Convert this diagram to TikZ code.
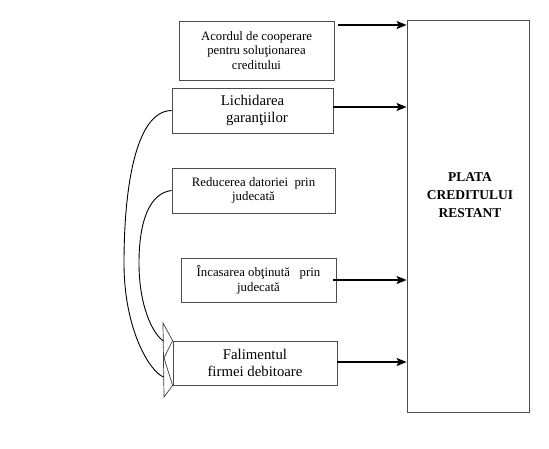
\documentclass[tikz,border=0pt]{standalone}
\usepackage{fontspec}
\setmainfont{Liberation Serif}
\usetikzlibrary{arrows.meta}
\begin{document}
\begin{tikzpicture}[x=1pt,y=-1pt,
  box/.style={draw=black!70,line width=0.8pt,inner sep=0pt,align=center},
  smalltxt/.style={font=\fontsize{12.8}{14.5}\selectfont},
  bigtxt/.style={font=\fontsize{14.8}{16.5}\selectfont},
  arr/.style={line width=1.5pt,-{Stealth[length=10pt,width=8pt,inset=2pt]}},
  curve/.style={line width=0.9pt,black},
  head/.style={draw=black!75,line width=0.7pt,line join=miter}]
\useasboundingbox[fill=white] (0,0) rectangle (549,448);

\node[box,smalltxt,minimum width=155pt,minimum height=59pt] (A) at (256.5,50.5)
  {Acordul de cooperare\\pentru soluţionarea\\creditului};
\node[box,bigtxt,minimum width=161pt,minimum height=45pt] (L) at (252.5,110.5)
  {Lichidarea\\\hspace*{9pt}garanţiilor};
\node[box,smalltxt,minimum width=163pt,minimum height=45pt] (R) at (253.5,190.5)
  {Reducerea datoriei\ \ prin\\judecată};
\node[box,smalltxt,minimum width=155pt,minimum height=44pt] (I) at (258.5,280)
  {Încasarea obţinută\ \ \ prin\\judecată};
\node[box,bigtxt,minimum width=164pt,minimum height=44pt] (F) at (255,363)
  {Falimentul\\firmei debitoare};
\node[box,minimum width=122pt,minimum height=392pt] (P) at (468,216) {};
\node[align=center,font=\bfseries\fontsize{13.5}{18}\selectfont] (Pt) at (470,195)
  {PLATA\\CREDITULUI\\RESTANT};

% arrows to the big box
\coordinate (a1) at (338,25);
\coordinate (a2) at (333,107);
\draw[arr] (a1) -- (a1 -| P.west);
\draw[arr] (a2) -- (a2 -| P.west);
\draw[arr] ([xshift=-3pt]I.east) -- (I.east -| P.west);
\draw[arr] ([yshift=1pt]F.east) -- ([yshift=1pt]F.east -| P.west);

% double open arrowhead at the left of F
\coordinate (h1) at (163,323);
\coordinate (h2) at (164,358);
\coordinate (h3) at (164,397);
\coordinate (e1) at (163.3,341);
\coordinate (e2) at (163.6,377);
\draw[head] (h1) -- (F.north west) -- (h2) -- (F.south west) -- (h3) -- cycle;

% curved connectors
\draw[curve] (L.west) .. controls (135,111) and (124,190) .. (124,263)
  .. controls (124,330) and (150,372) .. (e2);
\draw[curve] (R.west) .. controls (150,193) and (139,220) .. (139,263)
  .. controls (139,305) and (152,333) .. (e1);
\end{tikzpicture}
\end{document}
